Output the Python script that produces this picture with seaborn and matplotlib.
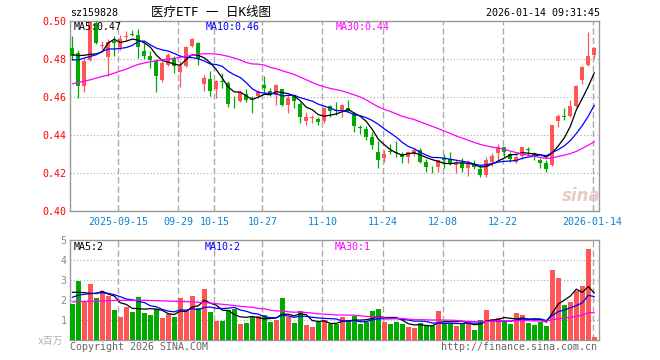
import numpy as np
import pandas as pd
import matplotlib
matplotlib.use('Agg')
import matplotlib.pyplot as plt
import seaborn as sns

# date ticks (trading-day index -> label)
tick_pos = [8, 18, 24, 32, 42, 52, 62, 72, 87]
tick_labels = ['2025-09-15', '09-29', '10-15', '10-27', '11-10',
               '11-24', '12-08', '12-22', '2026-01-14']

# daily OHLC, 2025-09-03 .. 2026-01-14
open_ = [0.4858, 0.4832, 0.4656, 0.4796, 0.4990, 0.4868, 0.4811, 0.4896, 0.4861, 0.4915,
         0.4930, 0.4928, 0.4840, 0.4818, 0.4788, 0.4688, 0.4770, 0.4805, 0.4730, 0.4765,
         0.4870, 0.4884, 0.4668, 0.4697, 0.4644, 0.4684, 0.4674, 0.4579, 0.4577, 0.4616,
         0.4588, 0.4604, 0.4665, 0.4633, 0.4612, 0.4644, 0.4556, 0.4604, 0.4563, 0.4475,
         0.4491, 0.4486, 0.4475, 0.4551, 0.4532, 0.4533, 0.4542, 0.4511, 0.4442, 0.4433,
         0.4393, 0.4314, 0.4279, 0.4316, 0.4314, 0.4300, 0.4283, 0.4300, 0.4323, 0.4261,
         0.4228, 0.4235, 0.4279, 0.4274, 0.4244, 0.4256, 0.4226, 0.4249, 0.4223, 0.4191,
         0.4261, 0.4305, 0.4337, 0.4302, 0.4261, 0.4288, 0.4324, 0.4305, 0.4270, 0.4256,
         0.4244, 0.4477, 0.4500, 0.4502, 0.4554, 0.4688, 0.4770, 0.4819]
high = [0.4919, 0.4850, 0.4805, 0.5000, 0.5000, 0.4895, 0.4905, 0.4919, 0.4928, 0.4946,
        0.4951, 0.4958, 0.4884, 0.4840, 0.4800, 0.4790, 0.4832, 0.4814, 0.4788, 0.4870,
        0.4910, 0.4890, 0.4718, 0.4735, 0.4691, 0.4726, 0.4686, 0.4604, 0.4630, 0.4644,
        0.4604, 0.4639, 0.4709, 0.4647, 0.4668, 0.4644, 0.4612, 0.4612, 0.4574, 0.4521,
        0.4504, 0.4498, 0.4546, 0.4560, 0.4574, 0.4563, 0.4586, 0.4521, 0.4454, 0.4446,
        0.4416, 0.4367, 0.4323, 0.4353, 0.4367, 0.4314, 0.4314, 0.4332, 0.4332, 0.4276,
        0.4240, 0.4270, 0.4302, 0.4309, 0.4270, 0.4279, 0.4267, 0.4270, 0.4244, 0.4284,
        0.4305, 0.4354, 0.4340, 0.4314, 0.4297, 0.4340, 0.4337, 0.4314, 0.4279, 0.4270,
        0.4454, 0.4512, 0.4542, 0.4586, 0.4665, 0.4761, 0.4942, 0.4861]
low = [0.4796, 0.4595, 0.4625, 0.4790, 0.4880, 0.4855, 0.4709, 0.4818, 0.4850, 0.4900,
       0.4919, 0.4805, 0.4800, 0.4753, 0.4625, 0.4682, 0.4765, 0.4726, 0.4653, 0.4760,
       0.4865, 0.4770, 0.4633, 0.4604, 0.4595, 0.4647, 0.4546, 0.4542, 0.4574, 0.4574,
       0.4516, 0.4598, 0.4621, 0.4604, 0.4560, 0.4551, 0.4516, 0.4542, 0.4463, 0.4451,
       0.4463, 0.4451, 0.4463, 0.4498, 0.4507, 0.4498, 0.4521, 0.4419, 0.4405, 0.4376,
       0.4328, 0.4230, 0.4261, 0.4300, 0.4283, 0.4253, 0.4253, 0.4288, 0.4253, 0.4205,
       0.4200, 0.4205, 0.4226, 0.4244, 0.4200, 0.4209, 0.4186, 0.4221, 0.4179, 0.4179,
       0.4239, 0.4267, 0.4284, 0.4261, 0.4253, 0.4274, 0.4297, 0.4267, 0.4226, 0.4209,
       0.4239, 0.4442, 0.4481, 0.4495, 0.4547, 0.4670, 0.4765, 0.4805]
close = [0.4814, 0.4656, 0.4788, 0.4993, 0.4884, 0.4872, 0.4888, 0.4884, 0.4907, 0.4919,
         0.4926, 0.4861, 0.4814, 0.4796, 0.4709, 0.4779, 0.4823, 0.4761, 0.4765, 0.4863,
         0.4905, 0.4800, 0.4700, 0.4633, 0.4686, 0.4680, 0.4563, 0.4577, 0.4626, 0.4586,
         0.4586, 0.4626, 0.4647, 0.4621, 0.4665, 0.4560, 0.4598, 0.4581, 0.4498, 0.4498,
         0.4494, 0.4468, 0.4542, 0.4525, 0.4528, 0.4556, 0.4525, 0.4446, 0.4440, 0.4393,
         0.4346, 0.4270, 0.4300, 0.4314, 0.4305, 0.4283, 0.4311, 0.4323, 0.4261, 0.4235,
         0.4226, 0.4267, 0.4270, 0.4253, 0.4256, 0.4226, 0.4256, 0.4235, 0.4191, 0.4270,
         0.4291, 0.4337, 0.4309, 0.4274, 0.4284, 0.4337, 0.4322, 0.4288, 0.4256, 0.4221,
         0.4454, 0.4502, 0.4498, 0.4554, 0.4656, 0.4756, 0.4818, 0.4858]

# volume in millions
volume = [1.82, 2.97, 1.97, 2.82, 2.10, 2.42, 2.23, 1.50, 1.15, 1.67,
          1.43, 2.17, 1.37, 1.27, 1.57, 1.12, 1.32, 1.17, 2.12, 1.50,
          2.22, 1.60, 2.57, 1.42, 0.97, 0.97, 1.52, 1.57, 0.82, 0.87,
          1.17, 1.22, 1.27, 0.92, 1.02, 2.12, 1.17, 0.87, 1.47, 0.77,
          0.67, 0.92, 1.02, 0.82, 0.82, 1.17, 1.02, 1.22, 0.82, 0.92,
          1.47, 1.57, 0.92, 0.82, 0.92, 0.82, 0.67, 0.62, 0.87, 0.72,
          0.72, 1.47, 0.87, 0.87, 0.72, 0.87, 0.92, 0.52, 1.02, 1.52,
          1.07, 1.12, 0.97, 0.82, 1.37, 1.27, 0.87, 0.77, 0.92, 0.72,
          3.52, 3.12, 1.77, 1.92, 2.45, 2.72, 4.57, 0.17]

# moving-average values before the window fills
ma5_head = [0.4823, 0.4818, 0.4820, 0.4825]
ma10_head = [0.4796, 0.4796, 0.4805, 0.4814, 0.4823, 0.4840, 0.4853, 0.4853, 0.4856]
ma30_head = [0.4670, 0.4677, 0.4684, 0.4691, 0.4700, 0.4709, 0.4716, 0.4726, 0.4737, 0.4747,
             0.4761, 0.4772, 0.4779, 0.4786, 0.4791, 0.4796, 0.4800, 0.4804, 0.4809, 0.4814,
             0.4821, 0.4826, 0.4828, 0.4828, 0.4826, 0.4821, 0.4814, 0.4805, 0.4795]
vma5_head = [2.40, 2.40, 2.38, 2.35]
vma10_head = [2.15, 2.25, 2.30, 2.33, 2.36, 2.38, 2.35, 2.28, 2.18]
vma30_head = [1.92, 1.93, 1.94, 1.95, 1.96, 1.97, 1.98, 1.99, 2.00, 2.00,
              2.00, 2.00, 2.00, 1.99, 1.98, 1.97, 1.96, 1.95, 1.94, 1.93,
              1.92, 1.90, 1.88, 1.86, 1.83, 1.80, 1.77, 1.74, 1.70]

RED = '#ff5555'
GREEN = '#00aa00'
BLUE = '#0000ff'
MAGENTA = '#ff00ff'
GRID = '#aaaaaa'

df = pd.DataFrame({'open': open_, 'high': high, 'low': low,
                   'close': close, 'volume': volume})
df['x'] = np.arange(len(df))
df['dir'] = np.where(df['close'] >= df['open'], 'up', 'down')


def moving(col, n, head):
    s = df[col].rolling(n).mean()
    s.iloc[:len(head)] = head
    return s


df['ma5'] = moving('close', 5, ma5_head)
df['ma10'] = moving('close', 10, ma10_head)
df['ma30'] = moving('close', 30, ma30_head)
df['vma5'] = moving('volume', 5, vma5_head)
df['vma10'] = moving('volume', 10, vma10_head)
df['vma30'] = moving('volume', 30, vma30_head)

sns.set_style('white')
plt.rcParams['font.family'] = ['DejaVu Sans Mono', 'Noto Sans CJK SC']

W, H = 660, 360
fig = plt.figure(figsize=(6.6, 3.6), dpi=100)
ax = fig.add_axes([70 / W, 1 - 211.3 / H, 529 / W, 190.3 / H])
axv = fig.add_axes([70 / W, 1 - 340.3 / H, 529 / W, 100 / H])


def px(x, y):
    return x / W, 1 - y / H


# candles
colors = np.where(df['dir'] == 'up', RED, GREEN)
ax.vlines(df['x'], df['low'], df['high'], colors=colors, lw=0.9, zorder=3)
body_lo = np.minimum(df['open'], df['close'])
body_h = np.maximum((df['close'] - df['open']).abs(), 0.0004)
ax.bar(df['x'], body_h, bottom=body_lo, width=0.7, color=colors, linewidth=0, zorder=4)

sns.lineplot(x=df['x'], y=df['ma5'], color='black', lw=0.9, ax=ax, zorder=5)
sns.lineplot(x=df['x'], y=df['ma10'], color=BLUE, lw=0.9, ax=ax, zorder=5)
sns.lineplot(x=df['x'], y=df['ma30'], color=MAGENTA, lw=0.9, ax=ax, zorder=5)

# volume
sns.barplot(data=df, x='x', y='volume', hue='dir', palette={'up': RED, 'down': GREEN},
            native_scale=True, width=0.83, saturation=1, errorbar=None, legend=False,
            linewidth=0, ax=axv, zorder=3)
sns.lineplot(x=df['x'], y=df['vma5'], color='black', lw=0.9, ax=axv, zorder=5)
sns.lineplot(x=df['x'], y=df['vma10'], color=BLUE, lw=0.9, ax=axv, zorder=5)
sns.lineplot(x=df['x'], y=df['vma30'], color=MAGENTA, lw=0.9, ax=axv, zorder=5)

grid_x = np.array(tick_pos) - 0.3
for a in (ax, axv):
    a.set_xlim(-0.38, 87.78)
    a.set_xlabel('')
    a.set_ylabel('')
    a.set_xticks(grid_x)
    a.set_axisbelow(True)
    a.xaxis.grid(True, color=GRID, lw=1.0, ls=(0, (4.5, 2.2)))
    a.yaxis.grid(True, color=GRID, lw=0.8, ls=(0, (1, 2)))
    for s in a.spines.values():
        s.set_color('#999999')
        s.set_linewidth(1.0)
    a.tick_params(length=0, pad=2.5, labelsize=7.2)

ax.set_ylim(0.40, 0.50)
price_ticks = [0.40, 0.42, 0.44, 0.46, 0.48, 0.50]
ax.set_yticks(price_ticks)
ax.set_yticklabels([f'{v:.2f}' for v in price_ticks], color='red')
ax.set_xticklabels(tick_labels, color='#0a84d6')
ax.tick_params(axis='x', pad=4)

axv.set_ylim(0, 5)
axv.set_yticks([1, 2, 3, 4, 5])
axv.set_yticklabels(['1', '2', '3', '4', '5'], color='#888888')
axv.set_xticklabels([])

# header texts
fig.text(*px(70, 13), 'sz159828', ha='left', va='center', size=7.2, color='black')
fig.text(*px(151, 12.5), '医疗ETF 一 日K线图', ha='left', va='center', size=9, color='black')
fig.text(*px(600, 13), '2026-01-14 09:31:45', ha='right', va='center', size=7.2, color='black')

fig.text(*px(74, 26.5), f"MA5:{df['ma5'].iloc[-1]:.2f}", ha='left', va='center', size=7.2, color='black')
fig.text(*px(206, 26.5), f"MA10:{df['ma10'].iloc[-1]:.2f}", ha='left', va='center', size=7.2, color=BLUE)
fig.text(*px(336, 26.5), f"MA30:{df['ma30'].iloc[-1]:.2f}", ha='left', va='center', size=7.2, color=MAGENTA)

fig.text(*px(74, 246.5), f"MA5:{df['vma5'].iloc[-1]:.0f}", ha='left', va='center', size=7.2, color='black')
fig.text(*px(205, 246.5), f"MA10:{df['vma10'].iloc[-1]:.0f}", ha='left', va='center', size=7.2, color=BLUE)
fig.text(*px(335, 246.5), f"MA30:{df['vma30'].iloc[-1]:.0f}", ha='left', va='center', size=7.2, color=MAGENTA)

fig.text(*px(63, 341), 'x百万', ha='right', va='center', size=7, color='#b0b0b0')
fig.text(*px(70, 347), 'Copyright 2026 SINA.COM', ha='left', va='center', size=7.2, color='#666666')
fig.text(*px(597, 347), 'http://finance.sina.com.cn', ha='right', va='center', size=7.2, color='#666666')

# faint watermark
fig.text(*px(581, 196), 'sina', ha='center', va='center', size=12, weight='bold',
         style='italic', family='DejaVu Sans', color='#ecc9c9')

fig.savefig('out.png', dpi=100, facecolor='white')
